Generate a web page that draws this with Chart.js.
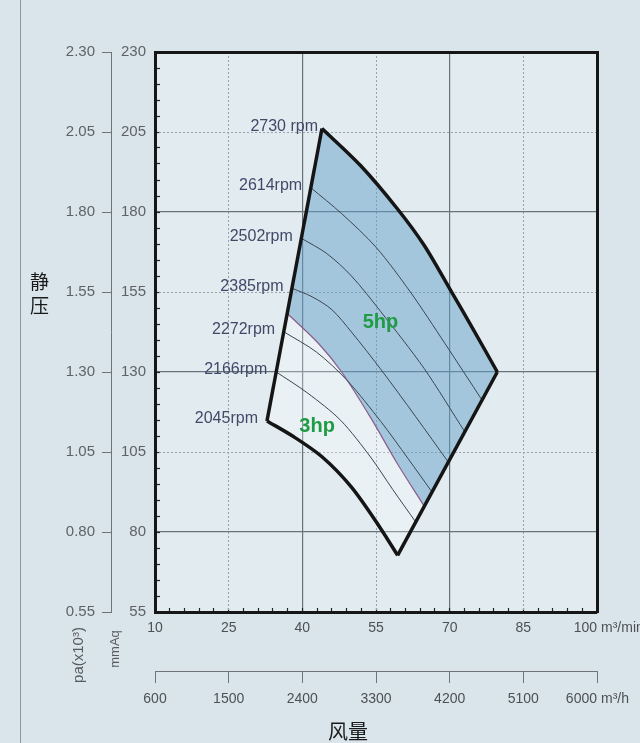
<!DOCTYPE html>
<html>
<head>
<meta charset="utf-8">
<script src="https://cdn.jsdelivr.net/npm/chart.js@4.4.1/dist/chart.umd.min.js"></script>
<style>
	html, body { margin: 0; padding: 0; background: #d9e5ea; }
	#wrap { position: relative; width: 640px; height: 743px; }
	#edge { position: absolute; left: 20px; top: 0; width: 1px; height: 743px; background: #8d999e; }
	canvas { position: absolute; left: 0; top: 0; }
</style>
</head>
<body>
<div id="wrap">
	<div id="edge"></div>
	<canvas id="fanChart" width="640" height="743"></canvas>
</div>
<script>
// tick labels
const flowTicks = [10, 25, 40, 55, 70, 85, 100]; // m³/min
const flowHourTicks = [600, 1500, 2400, 3300, 4200, 5100, 6000]; // m³/h
const pressTicks = [55, 80, 105, 130, 155, 180, 205, 230]; // mmAq
const paTicks = ['0.55', '0.80', '1.05', '1.30', '1.55', '1.80', '2.05', '2.30']; // pa x10³
const xSolid = [40, 70];
const xDotted = [25, 55, 85];
const ySolid = [80, 130, 180];
const yDotted = [105, 155, 205];

// fan curves : [flow m³/min, static pressure mmAq]
const rpmNames = ['2730 rpm', '2614rpm', '2502rpm', '2385rpm', '2272rpm', '2166rpm', '2045rpm'];
const rpm2730 = [[44.0, 206.1], [51.8, 194.6], [59.3, 181.1], [64.8, 169.6], [70.2, 155.5], [75.0, 142.8], [79.7, 130.0]];
const rpm2614 = [[41.8, 187.5], [48.0, 179.5], [55.0, 169.0], [62.0, 155.0], [69.0, 139.0], [76.6, 121.2]];
const rpm2502 = [[39.9, 171.7], [45.0, 167.0], [50.0, 160.0], [56.0, 148.8], [64.8, 131.1], [73.1, 111.25]];
const rpm2385 = [[38.0, 156.1], [42.0, 153.5], [46.0, 149.5], [50.0, 142.5], [55.9, 131.0], [63.1, 116.0], [69.7, 101.9]];
const rpm2272 = [[36.3, 142.5], [42.9, 136.2], [49.1, 127.4], [56.0, 114.5], [61.5, 103.0], [66.4, 92.5]];
const rpm2166 = [[34.7, 130.0], [41.0, 123.5], [47.8, 114.9], [53.9, 103.4], [58.4, 93.3], [63.1, 83.1]];
const rpm2045 = [[32.8, 114.7], [38.0, 110.0], [44.0, 103.5], [50.0, 94.0], [55.9, 81.2], [59.4, 72.7]];
// 3hp / 5hp limit
const powerLine = [[37.0, 148.2], [43.3, 138.9], [48.0, 130.0], [54.0, 115.5], [59.3, 101.5], [64.8, 88.1]];
const hpLabels = [['5hp', 55.9, 143.8], ['3hp', 43.0, 111.3]];

const rpmCurves = [rpm2730, rpm2614, rpm2502, rpm2385, rpm2272, rpm2166, rpm2045];
const font = '"Liberation Sans", Arial, sans-serif';
const curveTension = 0.3;

const pts = (arr) => arr.map((p) => ({ x: p[0], y: p[1] }));
const last = (arr) => arr[arr.length - 1];

// closed shapes (corners doubled so the spline stays sharp there)
const pl = powerLine;
const blueShape = [pl[0], rpm2730[0], ...rpm2730, last(rpm2730), last(pl), last(pl), ...pl.slice(1, -1).reverse(), pl[0]];
const whiteShape = [rpm2045[0], pl[0], ...pl, last(pl), last(rpm2045), last(rpm2045), ...rpm2045.slice(1, -1).reverse(), rpm2045[0]];

const line = (data, color, width, tension) => ({
	data: pts(data),
	showLine: true,
	borderColor: color,
	borderWidth: width,
	pointRadius: 0,
	tension: tension,
	fill: false,
});

const datasets = [
	line(rpm2730, '#151515', 3.5, curveTension),
	line(rpm2045, '#151515', 3.5, curveTension),
	line([rpm2045[0], rpm2730[0]], '#151515', 3.5, 0),
	line([last(rpm2045), last(rpm2730)], '#151515', 3.5, 0),
	line(rpm2614, '#3b4650', 1, curveTension),
	line(rpm2502, '#3b4650', 1, curveTension),
	line(rpm2385, '#3b4650', 1, curveTension),
	line(rpm2272, '#3b4650', 1, curveTension),
	line(rpm2166, '#3b4650', 1, curveTension),
	line(powerLine, '#8b5b8e', 1.2, curveTension),
	{ ...line(blueShape, 'rgba(0,0,0,0)', 0, curveTension), fill: 'shape', backgroundColor: 'rgba(100,160,200,0.5)' },
	{ ...line(whiteShape, 'rgba(0,0,0,0)', 0, curveTension), fill: 'shape', backgroundColor: 'rgba(255,255,255,0.25)' },
];

const areaBg = {
	id: 'areaBg',
	beforeDraw(chart) {
		const { ctx, chartArea: a } = chart;
		ctx.save();
		ctx.fillStyle = '#e2ecf0';
		ctx.fillRect(a.left, a.top, a.right - a.left, a.bottom - a.top);
		ctx.restore();
	},
};

const fanText = {
	id: 'fanText',
	afterDraw(chart) {
		const { ctx, scales } = chart;
		const x = scales.x, y = scales.y;
		ctx.save();
		// rpm labels next to the left edge
		ctx.font = '16px ' + font;
		ctx.fillStyle = '#414968';
		ctx.textAlign = 'right';
		ctx.textBaseline = 'middle';
		rpmCurves.forEach((c, i) => {
			const px = x.getPixelForValue(c[0][0]);
			const py = y.getPixelForValue(c[0][1]);
			ctx.fillText(rpmNames[i], px - (i === 0 ? 4 : 9), py - 2);
		});
		// power labels
		ctx.font = 'bold 20px ' + font;
		ctx.fillStyle = '#1f9b45';
		ctx.textAlign = 'center';
		ctx.textBaseline = 'alphabetic';
		hpLabels.forEach((h) => {
			ctx.fillText(h[0], x.getPixelForValue(h[1]), y.getPixelForValue(h[2]));
		});
		// last tick labels with units
		ctx.font = '14px ' + font;
		ctx.fillStyle = '#4d5155';
		ctx.textBaseline = 'middle';
		const xr = x.getPixelForValue(100);
		ctx.textAlign = 'right';
		ctx.fillText(String(last(flowTicks)), xr, x.top + 16.5);
		ctx.fillText(String(last(flowHourTicks)), xr, scales.xh.top + 28);
		ctx.textAlign = 'left';
		ctx.fillText('m³/min', xr + 4, x.top + 16.5);
		ctx.fillText('m³/h', xr + 4, scales.xh.top + 28);
		// rotated unit labels
		ctx.fillStyle = '#585c60';
		ctx.textAlign = 'center';
		ctx.font = '15px ' + font;
		ctx.save();
		ctx.translate(79, 655);
		ctx.rotate(-Math.PI / 2);
		ctx.fillText('pa(x10³)', 0, 0);
		ctx.restore();
		ctx.font = '13px ' + font;
		ctx.save();
		ctx.translate(115, 649);
		ctx.rotate(-Math.PI / 2);
		ctx.fillText('mmAq', 0, 0);
		ctx.restore();
		// axis titles
		ctx.fillStyle = '#1a1a1a';
		ctx.font = '19px "Noto Sans CJK SC", sans-serif';
		ctx.fillText('静', 39.5, 282);
		ctx.fillText('压', 39.5, 306);
		ctx.font = '20px "Noto Sans CJK SC", sans-serif';
		ctx.fillText('风量', 348, 731);
		ctx.restore();
	},
};

const tickFont = { family: font, size: 14 };
const hidden = { display: false };
const frame = { color: '#161616', width: 3 };

const ctx = document.getElementById('fanChart').getContext('2d');
const fanChart = new Chart(ctx, {
	type: 'scatter',
	data: { datasets },
	plugins: [areaBg, fanText],
	options: {
		responsive: false,
		animation: false,
		layout: { padding: { top: 52, right: 43, bottom: 0, left: 0 } },
		plugins: { legend: { display: false }, tooltip: { enabled: false } },
		scales: {
			x: {
				type: 'linear', position: 'bottom', weight: 1, min: 10, max: 100,
				ticks: {
					stepSize: 15, padding: 8, color: '#4d5155', font: tickFont,
					callback: (v) => (v === last(flowTicks) ? '' : String(v)),
				},
				grid: {
					color: (c) => (c.tick && xSolid.includes(c.tick.value) ? '#66737a' : 'rgba(0,0,0,0)'),
					lineWidth: 1.2, drawTicks: false,
				},
				border: frame,
				afterFit: (s) => { s.height = 59; },
			},
			xh: {
				type: 'linear', position: 'bottom', weight: 2, min: 10, max: 100,
				ticks: {
					stepSize: 15, padding: 8, color: '#4d5155', font: tickFont,
					callback: (v) => {
						const i = flowTicks.indexOf(v);
						return i === flowTicks.length - 1 ? '' : String(flowHourTicks[i]);
					},
				},
				grid: { drawOnChartArea: false, drawTicks: true, tickLength: 12, tickColor: '#6f7478', tickWidth: 1 },
				border: { color: '#6f7478', width: 1 },
				afterFit: (s) => { s.height = 72; },
			},
			xMinor: {
				type: 'linear', position: 'bottom', weight: 0, min: 10, max: 100,
				ticks: { stepSize: 3, display: false },
				grid: { drawOnChartArea: false, drawTicks: true, tickLength: -4, tickColor: '#222', tickWidth: 1.2 },
				border: hidden,
				afterFit: (s) => { s.height = 0; },
			},
			xDot: {
				type: 'linear', position: 'bottom', weight: 0, min: 10, max: 100,
				ticks: { display: false },
				afterBuildTicks: (s) => { s.ticks = xDotted.map((v) => ({ value: v })); },
				grid: { color: '#98a4a9', lineWidth: 1, drawTicks: false },
				border: { display: false, dash: [2, 2] },
				afterFit: (s) => { s.height = 0; },
			},
			xTop: {
				type: 'linear', position: 'top', min: 10, max: 100,
				ticks: { display: false },
				grid: { drawOnChartArea: false, drawTicks: false },
				border: frame,
				afterFit: (s) => { s.height = 0; },
			},
			y: {
				type: 'linear', position: 'left', weight: 1, min: 55, max: 230,
				ticks: { stepSize: 25, padding: 9, color: '#5f6367', font: { family: font, size: 15 } },
				grid: {
					color: (c) => (c.tick && ySolid.includes(c.tick.value) ? '#66737a' : 'rgba(0,0,0,0)'),
					lineWidth: 1.2, drawTicks: false,
				},
				border: frame,
				afterFit: (s) => { s.width = 44; },
			},
			yPa: {
				type: 'linear', position: 'left', weight: 2, min: 55, max: 230,
				ticks: {
					stepSize: 25, padding: 7, color: '#5f6367', font: { family: font, size: 15 },
					callback: (v) => paTicks[pressTicks.indexOf(v)],
				},
				grid: { drawOnChartArea: false, drawTicks: true, tickLength: 9, tickColor: '#6f7478', tickWidth: 1 },
				border: { color: '#6f7478', width: 1 },
				afterFit: (s) => { s.width = 111; },
			},
			yMinor: {
				type: 'linear', position: 'left', weight: 0, min: 55, max: 230,
				ticks: { stepSize: 5, display: false },
				grid: { drawOnChartArea: false, drawTicks: true, tickLength: -5, tickColor: '#222', tickWidth: 1.2 },
				border: hidden,
				afterFit: (s) => { s.width = 0; },
			},
			yDot: {
				type: 'linear', position: 'left', weight: 0, min: 55, max: 230,
				ticks: { display: false },
				afterBuildTicks: (s) => { s.ticks = yDotted.map((v) => ({ value: v })); },
				grid: { color: '#98a4a9', lineWidth: 1, drawTicks: false },
				border: { display: false, dash: [2, 2] },
				afterFit: (s) => { s.width = 0; },
			},
			yR: {
				type: 'linear', position: 'right', min: 55, max: 230,
				ticks: { display: false },
				grid: { drawOnChartArea: false, drawTicks: false },
				border: frame,
				afterFit: (s) => { s.width = 0; },
			},
		},
	},
});
</script>
</body>
</html>
